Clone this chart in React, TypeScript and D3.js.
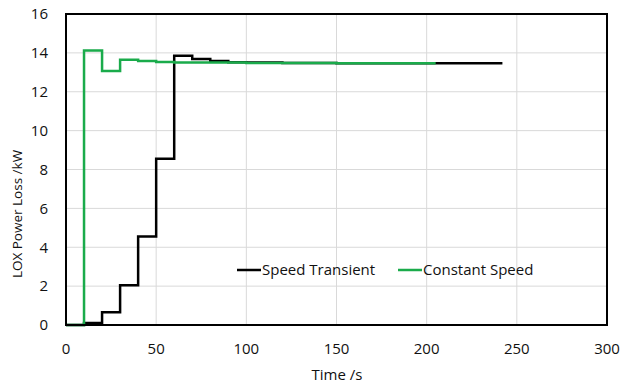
import React from 'react';
import * as d3 from 'd3';

// step times (s) and LOX power loss (kW), each value holds until next time
const transientTimes = [0, 10, 20, 30, 40, 50, 60, 70, 80, 90, 100, 120, 150, 200, 242];
const transientLoss = [0, 0.1, 0.65, 2.05, 4.55, 8.55, 13.85, 13.68, 13.58, 13.52, 13.5, 13.48, 13.47, 13.46, 13.46];

const constantTimes = [0, 10, 20, 30, 40, 50, 60, 100, 150, 205];
const constantLoss = [0, 14.12, 13.07, 13.65, 13.58, 13.53, 13.5, 13.48, 13.47, 13.47];

const xTicks = [0, 50, 100, 150, 200, 250, 300];
const yTicks = [0, 2, 4, 6, 8, 10, 12, 14, 16];

const W = 620;
const H = 387;
const margin = { left: 66, top: 14, right: 13, bottom: 62 };
const FONT = "'Open Sans', sans-serif";

export default function App() {
  const x = d3.scaleLinear().domain([0, 300]).range([margin.left, W - margin.right]);
  const y = d3.scaleLinear().domain([0, 16]).range([H - margin.bottom, margin.top]);

  const line = d3
    .line<[number, number]>()
    .x((d) => x(d[0]))
    .y((d) => y(d[1]))
    .curve(d3.curveStepAfter);

  const transient = transientTimes.map((t, i) => [t, transientLoss[i]] as [number, number]);
  const constant = constantTimes.map((t, i) => [t, constantLoss[i]] as [number, number]);

  const legendY = 270;

  return (
    <svg width={W} height={H} style={{ position: 'absolute', left: 0, top: 0, background: '#fff' }} fontFamily={FONT}>
      {/* grid */}
      {xTicks.map((t) => (
        <line key={'gx' + t} x1={x(t)} x2={x(t)} y1={y(0)} y2={y(16)} stroke="#d9d9d9" strokeWidth={1} />
      ))}
      {yTicks.map((t) => (
        <line key={'gy' + t} x1={x(0)} x2={x(300)} y1={y(t)} y2={y(t)} stroke="#d9d9d9" strokeWidth={1} />
      ))}

      <path d={line(transient) || ''} fill="none" stroke="#000" strokeWidth={2.5} />
      <path d={line(constant) || ''} fill="none" stroke="#1aab4b" strokeWidth={2.5} />

      {/* plot frame */}
      <rect x={x(0)} y={y(16)} width={x(300) - x(0)} height={y(0) - y(16)} fill="none" stroke="#000" strokeWidth={2} />

      {/* tick labels */}
      {yTicks.map((t) => (
        <text key={'ty' + t} x={x(0) - 18} y={y(t)} dy="0.35em" textAnchor="end" fontSize={15} fill="#111">
          {t}
        </text>
      ))}
      {xTicks.map((t) => (
        <text key={'tx' + t} x={x(t)} y={y(0) + 24} dy="0.35em" textAnchor="middle" fontSize={15} fill="#111">
          {t}
        </text>
      ))}

      {/* axis titles */}
      <text x={337} y={375} dy="0.35em" textAnchor="middle" fontSize={15} fill="#111">
        Time /s
      </text>
      <text
        transform="translate(17,214) rotate(-90)"
        dy="0.35em"
        textAnchor="middle"
        fontSize={13.5}
        fill="#111"
      >
        LOX Power Loss /kW
      </text>

      {/* legend */}
      <line x1={237} x2={261} y1={legendY} y2={legendY} stroke="#000" strokeWidth={2.5} />
      <text x={262} y={legendY} dy="0.35em" fontSize={15} fill="#111">
        Speed Transient
      </text>
      <line x1={398} x2={422} y1={legendY} y2={legendY} stroke="#1aab4b" strokeWidth={2.5} />
      <text x={423} y={legendY} dy="0.35em" fontSize={15} fill="#111">
        Constant Speed
      </text>
    </svg>
  );
}
